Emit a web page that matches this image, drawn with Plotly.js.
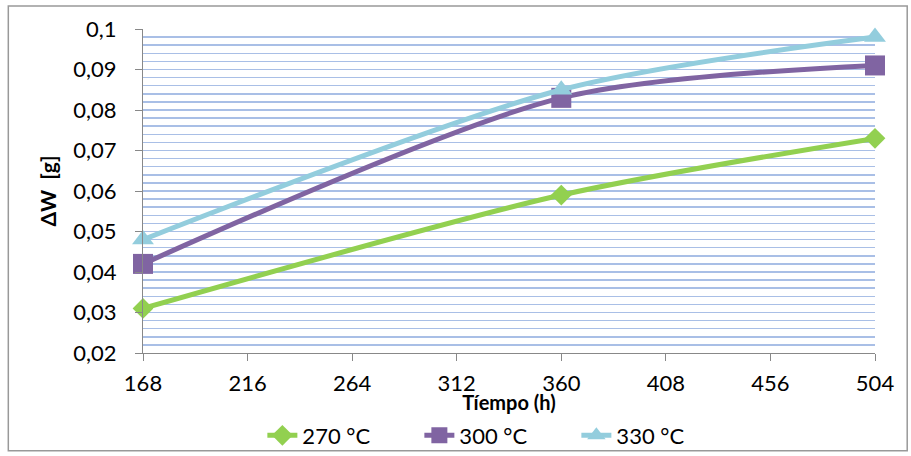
<!DOCTYPE html>
<html><head><meta charset="utf-8">
<script src="https://cdn.plot.ly/plotly-3.0.1.min.js"></script>
<style>body{margin:0;background:#fff}#c{width:911px;height:456px}</style>
</head><body><div id="c"></div>
<script>
const tiempo = [168, 360, 504];
const w270 = [0.031, 0.059, 0.073];
const w300 = [0.042, 0.083, 0.091];
const w330 = [0.048, 0.085, 0.098];
const names = ['270 °C', '300 °C', '330 °C'];
const xTicks = [168, 216, 264, 312, 360, 408, 456, 504];

const F = 'Lato, "Open Sans", sans-serif';
const mk = (y, name, color, symbol, size) => ({
  x: tiempo, y: y, name: name, type: 'scatter', mode: 'lines+markers',
  line: {color: color, width: 5, shape: 'spline', smoothing: 0.8},
  marker: {symbol: symbol, size: size, color: color},
  cliponaxis: false
});
const data = [
  mk(w270, names[0], '#92d050', 'diamond', 16),
  mk(w300, names[1], '#8064a2', 'square', 20),
  mk(w330, names[2], '#93cddd', 'triangle-up', 19)
];
const layout = {
  width: 911, height: 456,
  margin: {l: 143, r: 36, t: 29, b: 103, autoexpand: false},
  paper_bgcolor: '#fff', plot_bgcolor: '#fff',
  separators: ', ',
  font: {family: F, size: 22, color: '#000'},
  showlegend: true,
  legend: {orientation: 'h', x: 0.288, xref: 'container', xanchor: 'left', y: 0.045, yref: 'container', yanchor: 'middle',
           bgcolor: 'rgba(0,0,0,0)', font: {family: F, size: 22}, tracegroupgap: 0,
           entrywidth: 112, entrywidthmode: 'pixels'},
  xaxis: {
    range: [168, 504], tickvals: xTicks, ticktext: xTicks.map(String),
    showgrid: false, zeroline: false, automargin: false,
    showline: true, linecolor: '#888', linewidth: 1,
    ticks: 'outside', ticklen: 7, tickcolor: '#888', ticklabelstandoff: 4,
    tickfont: {family: F, size: 22},
    title: {text: '<b>Tíempo (h)</b>', font: {family: F, size: 20}, standoff: 7}
  },
  yaxis: {
    range: [0.02, 0.1], tickvals: [0.02,0.03,0.04,0.05,0.06,0.07,0.08,0.09,0.1],
    showgrid: true, gridcolor: '#a9bfe6', gridwidth: 1.5, automargin: false,
    minor: {dtick: 0.002, showgrid: true, gridcolor: '#a9bfe6', gridwidth: 1.5},
    zeroline: false, showline: true, linecolor: '#888', linewidth: 1,
    ticks: 'outside', ticklen: 7, tickcolor: '#888', ticklabelstandoff: 14,
    tickfont: {family: F, size: 22},
    title: {text: '<b>ΔW  [g]</b>', font: {family: F, size: 21}, standoff: 10}
  },
  shapes: [{type: 'rect', xref: 'paper', yref: 'paper', x0: -0.184, x1: 1.044, y0: -0.302, y1: 1.071,
            line: {color: '#999', width: 1.5}}]
};
Plotly.newPlot('c', data, layout, {displayModeBar: false, staticPlot: true});
</script></body></html>
